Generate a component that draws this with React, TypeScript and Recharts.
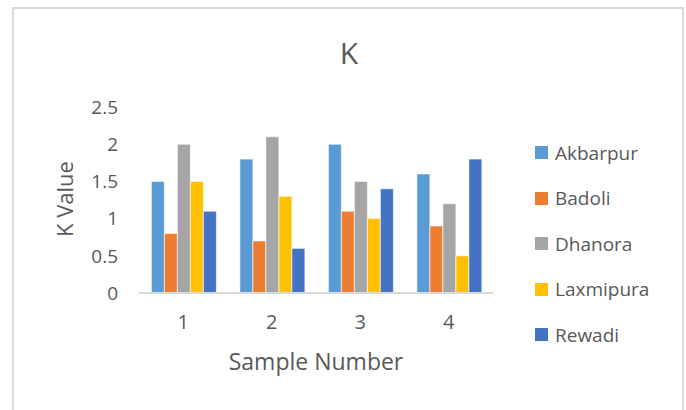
import React from 'react';
import { BarChart, Bar, XAxis, YAxis, Legend } from 'recharts';

const samples = ['1', '2', '3', '4'];
const akbarpur = [1.5, 1.8, 2.0, 1.6];
const badoli = [0.8, 0.7, 1.1, 0.9];
const dhanora = [2.0, 2.1, 1.5, 1.2];
const laxmipura = [1.5, 1.3, 1.0, 0.5];
const rewadi = [1.1, 0.6, 1.4, 1.8];
const yTicks = [0, 0.5, 1, 1.5, 2, 2.5];

const seriesNames = ['Akbarpur', 'Badoli', 'Dhanora', 'Laxmipura', 'Rewadi'];
const seriesColors = ['#5B9BD5', '#ED7D31', '#A5A5A5', '#FFC000', '#4472C4'];
const seriesValues = [akbarpur, badoli, dhanora, laxmipura, rewadi];

const data = samples.map((s, i) => {
  const row: Record<string, any> = { sample: s };
  seriesNames.forEach((n, k) => { row[n] = seriesValues[k][i]; });
  return row;
});

const FONT = '"Open Sans", sans-serif';
const TEXT = '#595959';

const renderLegend = () => (
  <div style={{ fontFamily: FONT }}>
    {seriesNames.map((n, i) => (
      <div key={n} style={{ display: 'flex', alignItems: 'center', height: 45.5 }}>
        <div style={{ width: 13, height: 13, background: seriesColors[i], marginRight: 7 }} />
        <span style={{ fontSize: 19, color: TEXT }}>{n}</span>
      </div>
    ))}
  </div>
);

export default function App() {
  return (
    <div style={{ position: 'absolute', left: 0, top: 0, width: 686, height: 410, background: '#fff', overflow: 'hidden' }}>
      <div style={{ position: 'absolute', left: 12, top: 7, width: 668, height: 420, border: '2px solid #d9d9d9' }} />
      <div style={{ position: 'absolute', left: 0, top: 0 }}>
        <BarChart
          width={686}
          height={410}
          data={data}
          margin={{ top: 107, right: 43, bottom: 87, left: 79 }}
          barCategoryGap="14%"
          barGap={0}
        >
          <text x={349} y={64} textAnchor="middle" fontFamily={FONT} fontSize={30} fill={TEXT}>K</text>
          <text
            x={73}
            y={199}
            transform="rotate(-90 73 199)"
            textAnchor="middle"
            fontFamily={FONT}
            fontSize={22}
            fill={TEXT}
          >K Value</text>
          <text x={316} y={370} textAnchor="middle" fontFamily={FONT} fontSize={23} fill={TEXT}>Sample Number</text>
          <XAxis
            dataKey="sample"
            height={30}
            axisLine={{ stroke: '#d9d9d9', strokeWidth: 2 }}
            tickLine={false}
            tickSize={0}
            tickMargin={22}
            tick={{ fill: TEXT, fontSize: 20, fontFamily: FONT }}
          />
          <YAxis
            width={60}
            domain={[0, 2.5]}
            ticks={yTicks}
            axisLine={false}
            tickLine={false}
            tickSize={0}
            tickMargin={21}
            tick={{ fill: TEXT, fontSize: 19, fontFamily: FONT }}
          />
          <Legend
            layout="vertical"
            align="right"
            verticalAlign="top"
            content={renderLegend}
            wrapperStyle={{ left: 535, top: 130, width: 150 }}
          />
          {seriesNames.map((n, i) => (
            <Bar
              key={n}
              dataKey={n}
              fill={seriesColors[i]}
              stroke="#ffffff"
              strokeOpacity={0.6}
              strokeWidth={1}
              isAnimationActive={false}
            />
          ))}
        </BarChart>
      </div>
    </div>
  );
}
